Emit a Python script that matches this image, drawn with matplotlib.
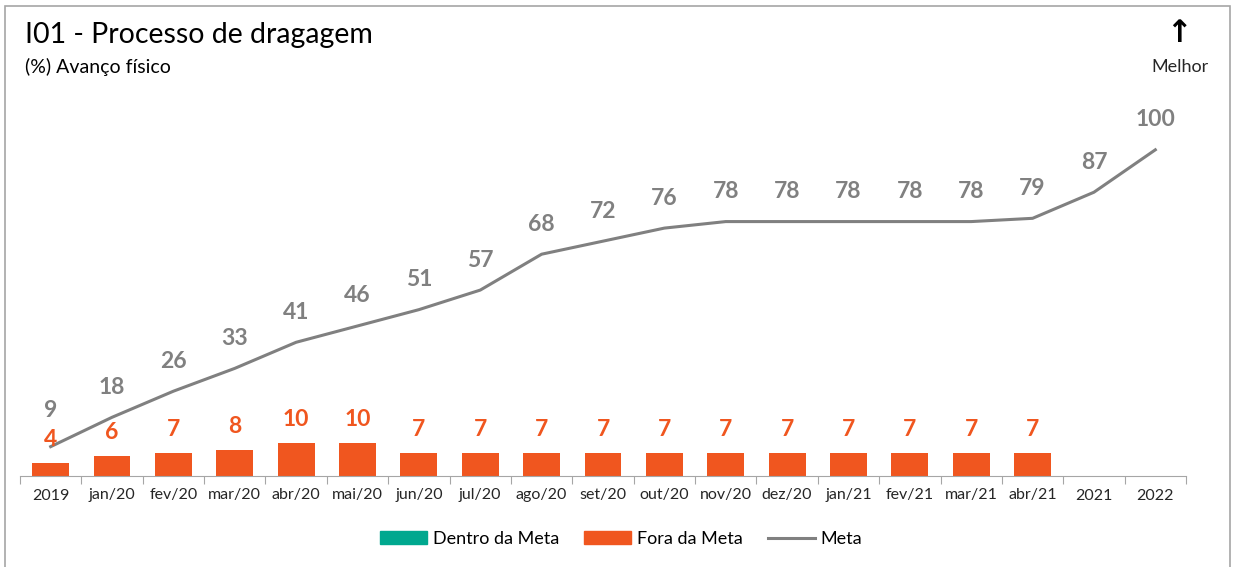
import numpy as np
import matplotlib.pyplot as plt
from matplotlib.patches import Patch, Rectangle
from matplotlib.lines import Line2D

plt.rcParams['font.family'] = ['Lato', 'DejaVu Sans']

categorias = ['2019', 'jan/20', 'fev/20', 'mar/20', 'abr/20', 'mai/20', 'jun/20', 'jul/20',
              'ago/20', 'set/20', 'out/20', 'nov/20', 'dez/20', 'jan/21', 'fev/21', 'mar/21',
              'abr/21', '2021', '2022']
meta = [9, 18, 26, 33, 41, 46, 51, 57, 68, 72, 76, 78, 78, 78, 78, 78, 79, 87, 100]
realizado = [4, 6, 7, 8, 10, 10, 7, 7, 7, 7, 7, 7, 7, 7, 7, 7, 7, None, None]

laranja = '#F0561F'
cinza = '#808080'
verde = '#00A88F'

fig = plt.figure(figsize=(12.35, 5.67), dpi=100)
# moldura
fig.patches.append(Rectangle((0.004, -0.01), 0.992, 1.0, transform=fig.transFigure,
                             fill=False, edgecolor='#A6A6A6', lw=1.2))

ax = fig.add_axes([20 / 1235, 1 - 476 / 567, 1166 / 1235, 380 / 567])
x = np.arange(len(categorias))

xb = [i for i, v in enumerate(realizado) if v is not None]
yb = [v for v in realizado if v is not None]
ax.bar(xb, yb, width=0.6, color=laranja, zorder=2)
ax.plot(x, meta, color=cinza, lw=2.2, zorder=3)

for i, v in zip(xb, yb):
    ax.text(i, v + 7.3, str(v), ha='center', va='center', color=laranja,
            fontsize=16.5, fontweight='bold')
for i, v in enumerate(meta):
    off = 11.0 if i == 0 else 9.2
    ax.text(i, v + off, str(v), ha='center', va='center', color=cinza,
            fontsize=16.5, fontweight='bold')

ax.set_xlim(-0.5, len(categorias) - 0.5)
ax.set_ylim(0, 116.5)
ax.set_yticks([])
for s in ['top', 'right', 'left']:
    ax.spines[s].set_visible(False)
ax.spines['bottom'].set_color('#A6A6A6')
ax.set_xticks(list(x - 0.5) + [len(categorias) - 0.5])
ax.set_xticklabels([])
ax.tick_params(axis='x', which='major', length=6, color='#A6A6A6')
ax.set_xticks(x, minor=True)
ax.set_xticklabels(categorias, minor=True, fontsize=11.5, color='#262626')
ax.tick_params(axis='x', which='minor', length=0, pad=9)

fig.text(25 / 1235, 1 - 35 / 567, 'I01 - Processo de dragagem', fontsize=20.5,
         va='center', ha='left', color='black')
fig.text(25 / 1235, 1 - 67 / 567, '(%) Avanço físico', fontsize=14,
         va='center', ha='left', color='black')
fig.text(1179 / 1235, 1 - 33 / 567, '↑', fontsize=22, fontweight='bold',
         va='center', ha='center', family=['DejaVu Sans'])
fig.text(1180 / 1235, 1 - 67 / 567, 'Melhor', fontsize=13, va='center', ha='center',
         color='#262626')

handles = [Patch(color=verde), Patch(color=laranja), Line2D([], [], color=cinza, lw=2.2)]
fig.legend(handles, ['Dentro da Meta', 'Fora da Meta', 'Meta'], loc='center',
           bbox_to_anchor=(621 / 1235, 1 - 539 / 567), ncol=3, frameon=False,
           fontsize=13, handlelength=2.6, handleheight=0.7, columnspacing=1.4,
           handletextpad=0.3)

fig.savefig('out.png', dpi=100)
